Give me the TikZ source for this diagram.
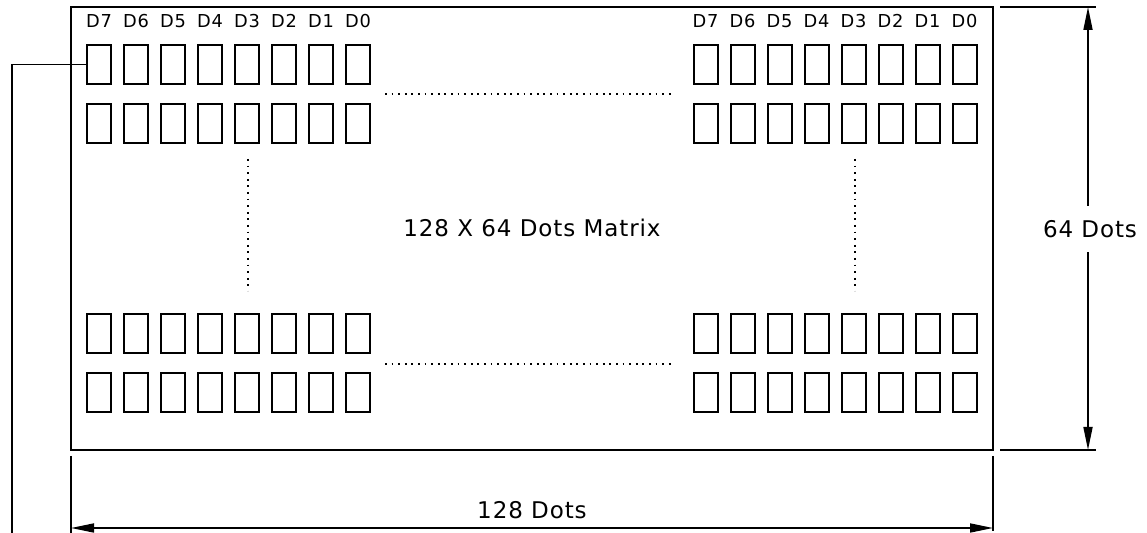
\documentclass[tikz,border=0pt]{standalone}
\usepackage{fontspec}
\setmainfont{DejaVu Sans}[LetterSpace=4]
\usetikzlibrary{positioning, arrows.meta}

\begin{document}
\begin{tikzpicture}[x=0.5pt, y=-0.5pt,
    cell/.style={draw, line width=1pt, rectangle, inner sep=0pt, minimum width=12pt, minimum height=19.5pt},
    bitlbl/.style={font=\fontsize{8.9pt}{10pt}\selectfont, inner sep=0pt},
    dimlbl/.style={font=\fontsize{11.5pt}{13pt}\selectfont},
    dim/.style={line width=0.85pt, -{Triangle[length=11.5pt, width=4.5pt]}},
    extline/.style={line width=0.8pt},
    dots/.style={line width=0.9pt, dash pattern=on 0.9pt off 2.4pt}]
    \useasboundingbox (0,0) rectangle (1147,533);
    % Frame
    \node[draw, line width=0.9pt, rectangle, inner sep=0pt, minimum width=461pt, minimum height=221.5pt] (lcd) at (532,228.5) {};
    \node[dimlbl] (title) at (532,228) {128 X 64 Dots Matrix};
    % Cells
    \foreach \r/\y in {1/64.5, 2/123.5, 3/333.5, 4/392.5} {
        \foreach \i in {0,...,7} {
            \node[cell] (l\r\i) at ({99+37*\i},\y) {};
            \node[cell] (r\r\i) at ({705.5+37*\i},\y) {};
        }
    }
    % Bit labels
    \foreach \b [count=\i from 0] in {7,6,5,4,3,2,1,0} {
        \node[bitlbl] (lb\b) at ({99+37*\i},21) {D\b};
        \node[bitlbl] (rb\b) at ({705.5+37*\i},21) {D\b};
    }
    % Dotted lines
    \draw[dots] (385,94) -- (672,94);
    \draw[dots] (385,364) -- (672,364);
    \draw[dots] (248,159) -- (248,291);
    \draw[dots] (855,159) -- (855,291);
    % Height dimension
    \coordinate (ht) at (1088,7);
    \coordinate (hb) at (1088,450);
    \draw[extline] (1000,7) -- (1096,7);
    \draw[extline] (1000,450) -- (1096,450);
    \node[dimlbl, inner ysep=7pt] (hlbl) at (1090,229) {64 Dots};
    \draw[dim] (hlbl.north -| ht) -- (ht);
    \draw[dim] (hlbl.south -| hb) -- (hb);
    % Width dimension
    \coordinate (wl) at (71,528);
    \coordinate (wr) at (993,528);
    \draw[extline] (71,456) -- (71,533);
    \draw[extline] (993,456) -- (993,531);
    \draw[dim, {Triangle[length=11.5pt, width=4.5pt]}-{Triangle[length=11.5pt, width=4.5pt]}] (wl) -- (wr) node[dimlbl, midway, above=1pt] (wlbl) {128 Dots};
    % Leader
    \coordinate (lead) at (12,533);
    \draw[extline] (l10.west) -| (lead);
\end{tikzpicture}
\end{document}
